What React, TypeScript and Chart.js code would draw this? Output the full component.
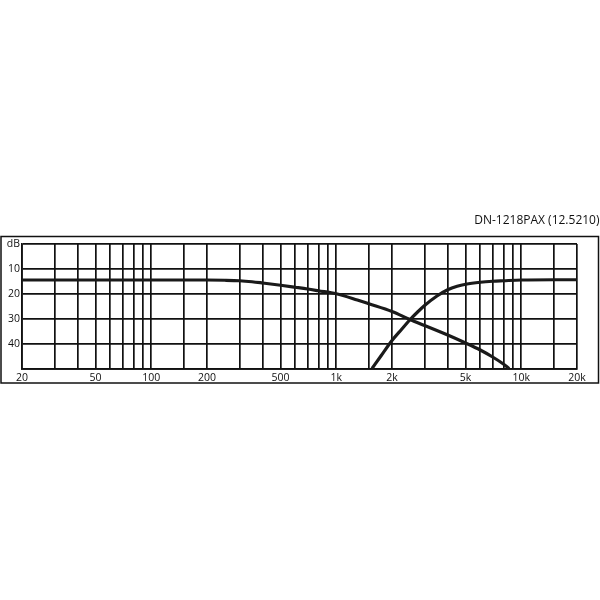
import React, { useEffect, useRef } from "react"
import Chart from "chart.js/auto"

const title = "DN-1218PAX (12.5210)"

// grid lines of the log frequency axis
const gridFreqs = [
  20, 30, 40, 50, 60, 70, 80, 90, 100, 150, 200, 300, 400, 500, 600, 700, 800, 900,
  1000, 1500, 2000, 3000, 4000, 5000, 6000, 7000, 8000, 9000, 10000, 15000, 20000,
]
const freqLabels: Record<number, string> = {
  20: "20",
  50: "50",
  100: "100",
  200: "200",
  500: "500",
  1000: "1k",
  2000: "2k",
  5000: "5k",
  10000: "10k",
  20000: "20k",
}

// low-pass curve
const lowFreq = [20, 100, 200, 250, 300, 350, 400, 500, 600, 700, 800, 1000, 1300, 1500, 2000, 2500, 3000, 4000, 5000, 6000, 7000, 8000, 8600]
const lowDb = [14.4, 14.4, 14.4, 14.5, 14.7, 15.1, 15.6, 16.5, 17.3, 18, 18.7, 19.9, 22.4, 23.9, 27, 30.2, 32.6, 36.4, 39.6, 42.4, 45.2, 48, 49.8]

// high-pass curve
const highFreq = [1560, 1750, 2000, 2250, 2500, 2750, 3000, 3500, 4000, 4500, 5000, 6000, 7000, 8000, 10000, 15000, 20000]
const highDb = [49.8, 44.6, 38.6, 34.2, 30.3, 27.2, 24.6, 20.8, 18.3, 16.9, 16.1, 15.3, 14.9, 14.7, 14.4, 14.3, 14.3]

const ink = "#111"

const framePlugin = {
  id: "frame",
  afterDraw(chart: Chart) {
    const ctx = chart.ctx
    ctx.save()
    ctx.strokeStyle = ink
    ctx.lineWidth = 1.5
    ctx.strokeRect(1, 236.5, 597.5, 146.5)
    ctx.fillStyle = ink
    ctx.font = "12px 'Open Sans'"
    ctx.textAlign = "right"
    ctx.textBaseline = "alphabetic"
    ctx.fillText(title, 599.5, 224)
    ctx.restore()
  },
}

export default function App() {
  const ref = useRef<HTMLCanvasElement>(null)

  useEffect(() => {
    let chart: Chart | null = null
    if (ref.current) {
      chart = new Chart(ref.current, {
        type: "line",
        data: {
          datasets: [
            {
              data: lowFreq.map((f, i) => ({ x: f, y: lowDb[i] })),
              borderColor: "#1a1a1a",
              borderWidth: 3.2,
              pointRadius: 0,
              cubicInterpolationMode: "monotone",
            },
            {
              data: highFreq.map((f, i) => ({ x: f, y: highDb[i] })),
              borderColor: "#1a1a1a",
              borderWidth: 3.2,
              pointRadius: 0,
              cubicInterpolationMode: "monotone",
            },
          ],
        },
        options: {
          responsive: false,
          animation: false,
          layout: { padding: { left: 0, top: 244, right: 23, bottom: 215 } },
          plugins: {
            legend: { display: false },
            tooltip: { enabled: false },
          },
          scales: {
            x: {
              type: "logarithmic",
              min: 20,
              max: 20000,
              afterBuildTicks: (scale: any) => {
                scale.ticks = gridFreqs.map((v) => ({ value: v }))
              },
              afterFit: (scale: any) => {
                scale.height = 16
              },
              grid: { color: ink, lineWidth: 1.7, drawTicks: false },
              border: { color: ink, width: 1.7 },
              ticks: {
                autoSkip: false,
                maxRotation: 0,
                padding: 3,
                color: ink,
                font: { family: "'Open Sans'", size: 10.5 },
                callback: (v: any) => freqLabels[Number(v)] ?? "",
              },
            },
            y: {
              min: 0,
              max: 50,
              reverse: true,
              afterFit: (scale: any) => {
                scale.width = 22
              },
              grid: { color: ink, lineWidth: 1.7, drawTicks: false },
              border: { color: ink, width: 1.7 },
              ticks: {
                stepSize: 5,
                padding: 2,
                color: ink,
                font: { family: "'Open Sans'", size: 10.5 },
                callback: (v: any) => {
                  const n = Number(v)
                  if (n === 0) return "dB"
                  return n % 10 === 0 && n < 50 ? String(n) : ""
                },
              },
            },
          },
        },
        plugins: [framePlugin],
      })
    }
    return () => {
      chart?.destroy()
    }
  }, [])

  return (
    <div style={{ position: "fixed", left: 0, top: 0, width: 600, height: 600, background: "#fff" }}>
      <canvas ref={ref} width="600" height="600" />
    </div>
  )
}
